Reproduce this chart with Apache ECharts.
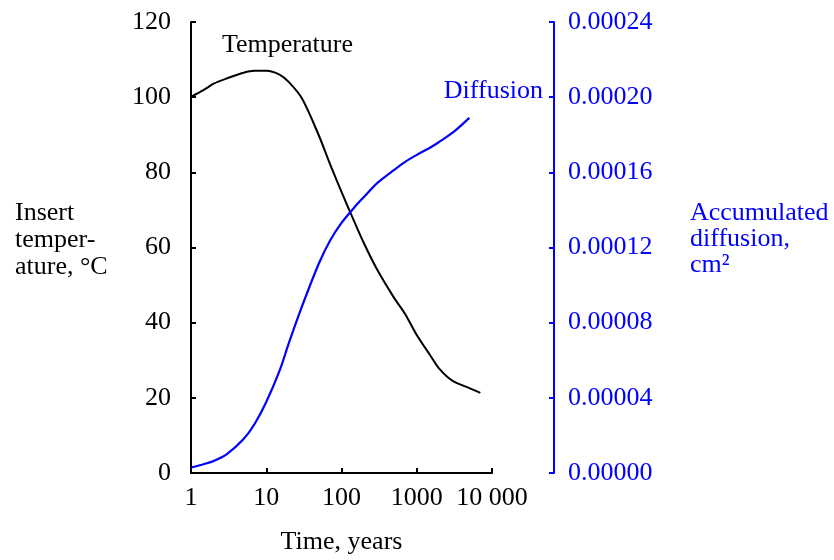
<!DOCTYPE html>
<html>
<head>
<meta charset="utf-8">
<script src="https://cdn.jsdelivr.net/npm/echarts@6/dist/echarts.min.js"></script>
<style>html,body{margin:0;padding:0;background:#fff}#c{width:834px;height:560px}</style>
</head>
<body>
<div id="c"></div>
<script>
// Time values (years)
var tempTimes = [1, 1.5, 2, 3, 5, 7, 10, 15, 20, 30, 50, 70, 100, 150, 200, 300, 500, 700, 1000, 1500, 2000, 3000, 5000, 7000];
// Insert temperature, °C
var temperature = [100.1, 102.0, 103.6, 105.0, 106.5, 107.0, 107.0, 106.0, 104.0, 99.6, 89.8, 82.3, 74.8, 66.6, 61.0, 54.0, 46.6, 42.3, 36.7, 31.4, 27.7, 24.5, 22.6, 21.3];
// Diffusion times (years)
var diffTimes = [1, 1.5, 2, 3, 5, 7, 10, 15, 20, 30, 50, 70, 100, 150, 200, 300, 500, 700, 1000, 1500, 2000, 3000, 5000];
// Accumulated diffusion, cm^2
var diffusion = [0.0000029, 0.0000048, 0.0000064, 0.0000101, 0.0000181, 0.0000261, 0.0000378, 0.0000543, 0.0000692, 0.0000889, 0.0001115, 0.0001235, 0.0001331, 0.0001416, 0.0001470, 0.0001544, 0.0001613, 0.0001656, 0.0001693, 0.0001731, 0.0001763, 0.0001811, 0.0001890];
// Tick labels
var xTickLabels = {1: '1', 10: '10', 100: '100', 1000: '1000', 10000: '10 000'};

var FONT = 'Liberation Serif';
var BLUE = '#0000ff';
var FS = 26;

function pairs(xs, ys) { return xs.map(function (x, i) { return [x, ys[i]]; }); }

var chart = echarts.init(document.getElementById('c'), null, {renderer: 'canvas'});
chart.setOption({
  animation: false,
  backgroundColor: '#fff',
  grid: {left: 191, right: 342, top: 22, bottom: 87, containLabel: false},
  xAxis: {
    type: 'log', logBase: 10, min: 1, max: 10000,
    axisLine: {lineStyle: {color: '#000', width: 2}},
    axisTick: {inside: true, length: 5, lineStyle: {color: '#000', width: 2}},
    minorTick: {show: false},
    splitLine: {show: false},
    axisLabel: {
      color: '#000', fontFamily: FONT, fontSize: FS, margin: 12,
      formatter: function (v) { var k = Math.round(v); return xTickLabels[k] !== undefined ? xTickLabels[k] : ''; }
    },
    name: 'Time, years', nameLocation: 'middle', nameGap: 56,
    nameTextStyle: {color: '#000', fontFamily: FONT, fontSize: FS}
  },
  yAxis: [{
    type: 'value', min: 0, max: 120, interval: 20, position: 'left',
    axisLine: {show: true, lineStyle: {color: '#000', width: 2}},
    axisTick: {show: true, inside: true, length: 5, lineStyle: {color: '#000', width: 2}},
    splitLine: {show: false},
    axisLabel: {color: '#000', fontFamily: FONT, fontSize: FS, margin: 20}
  }, {
    type: 'value', min: 0, max: 0.00024, interval: 0.00004, position: 'right', offset: 62,
    axisLine: {show: true, lineStyle: {color: BLUE, width: 2}},
    axisTick: {show: true, inside: true, length: 5, lineStyle: {color: BLUE, width: 2}},
    splitLine: {show: false},
    axisLabel: {color: BLUE, fontFamily: FONT, fontSize: FS, margin: 14,
      formatter: function (v) { return v.toFixed(5); }}
  }],
  series: [{
    name: 'Temperature', type: 'line', yAxisIndex: 0, showSymbol: false, smooth: 0.3,
    lineStyle: {color: '#000', width: 2}, itemStyle: {color: '#000'},
    data: pairs(tempTimes, temperature)
  }, {
    name: 'Diffusion', type: 'line', yAxisIndex: 1, showSymbol: false, smooth: 0.3,
    lineStyle: {color: BLUE, width: 2.2}, itemStyle: {color: BLUE},
    data: pairs(diffTimes, diffusion)
  }],
  graphic: [
    {type: 'text', left: 222, top: 32, style: {text: 'Temperature', fill: '#000', font: FS + 'px "Liberation Serif"'}},
    {type: 'text', right: 834 - 543, top: 78, style: {text: 'Diffusion', fill: BLUE, font: FS + 'px "Liberation Serif"'}},
    {type: 'text', left: 15, top: 200, style: {text: 'Insert\ntemper-\nature, \u00B0C', fill: '#000', font: FS + 'px "Liberation Serif"', lineHeight: 27}},
    {type: 'text', left: 690, top: 200, style: {text: 'Accumulated\ndiffusion,\ncm\u00B2', fill: BLUE, font: FS + 'px "Liberation Serif"', lineHeight: 26}}
  ]
});
</script>
</body>
</html>
